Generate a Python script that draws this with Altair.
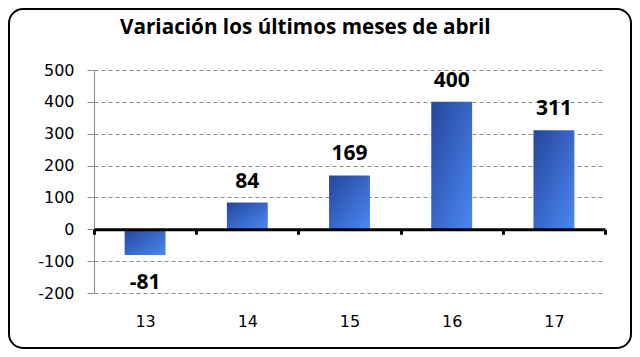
import altair as alt
import pandas as pd

years = ["13", "14", "15", "16", "17"]
values = [-81, 84, 169, 400, 311]
y_ticks = [-200, -100, 0, 100, 200, 300, 400, 500]
chart_title = "Variación los últimos meses de abril"

df = pd.DataFrame({"year": years, "value": values})

W, H = 511, 223
PAD = {"left": 86, "top": 62, "right": 27, "bottom": 56}
zero_off = -(H * (0 - (-200)) / 700)
hyphen_expr = "datum.value < 0 ? '-' + abs(datum.value) : '' + datum.value"

x = alt.X(
    "year:N", sort=years,
    scale=alt.Scale(paddingInner=0, paddingOuter=0),
    axis=alt.Axis(title=None, labelAngle=0, offset=zero_off, tickBand="extent",
                  domainColor="black", domainWidth=3, tickColor="black", tickWidth=3,
                  tickSize=5, labelPadding=79, labelFont="DejaVu Sans", labelFontSize=16,
                  labelColor="black", zindex=1, grid=False),
)
y = alt.Y(
    "value:Q",
    scale=alt.Scale(domain=[-200, 500], nice=False, zero=False),
    axis=alt.Axis(title=None, values=y_ticks, tickCount=8, labelOverlap=False, labelExpr=hyphen_expr,
                  grid=True, gridDash=[4, 3], gridColor="#8a8a8a",
                  domainColor="#8a8a8a", tickColor="#8a8a8a", tickSize=7, labelPadding=13,
                  labelFont="DejaVu Sans", labelFontSize=16, labelColor="black"),
)

grad = alt.Gradient(
    gradient="linear",
    stops=[alt.GradientStop(color="#26469a", offset=0), alt.GradientStop(color="#4a88f6", offset=1)],
    x1=0, y1=0, x2=1, y2=1,
)

base = alt.Chart(df).transform_calculate(lbl=hyphen_expr)
bars = base.mark_bar(color=grad, width=alt.RelativeBandSize(0.4)).encode(x=x, y=y)
lab_pos = base.transform_filter("datum.value >= 0").mark_text(
    font="Open Sans", fontWeight="bold", fontSize=21, baseline="alphabetic", dy=-15, color="black"
).encode(x=alt.X("year:N", sort=years), y="value:Q", text="lbl:N")
lab_neg = base.transform_filter("datum.value < 0").mark_text(
    font="Open Sans", fontWeight="bold", fontSize=21, baseline="alphabetic", dy=34, color="black"
).encode(x=alt.X("year:N", sort=years), y="value:Q", text="lbl:N")

single = alt.Chart(alt.Data(values=[{}]))
border = single.mark_rect(
    fill="white", fillOpacity=0, stroke="black", strokeWidth=2, cornerRadius=14
).encode(
    x=alt.value(-PAD["left"] + 1), x2=alt.value(W + PAD["right"] - 1),
    y=alt.value(-PAD["top"] + 1), y2=alt.value(H + PAD["bottom"] - 1),
)
title_txt = single.mark_text(
    text=chart_title, align="left", baseline="alphabetic",
    font="Open Sans", fontWeight="bold", fontSize=20.7, color="black",
).encode(x=alt.value(26), y=alt.value(-36))

chart = alt.layer(border, bars, lab_pos, lab_neg, title_txt).properties(
    width=W, height=H,
    padding=PAD,
    autosize=alt.AutoSizeParams(type="none"),
    background="white",
).configure_view(stroke=None)

chart.save("out.html", embed_options={"renderer": "svg", "actions": False})
